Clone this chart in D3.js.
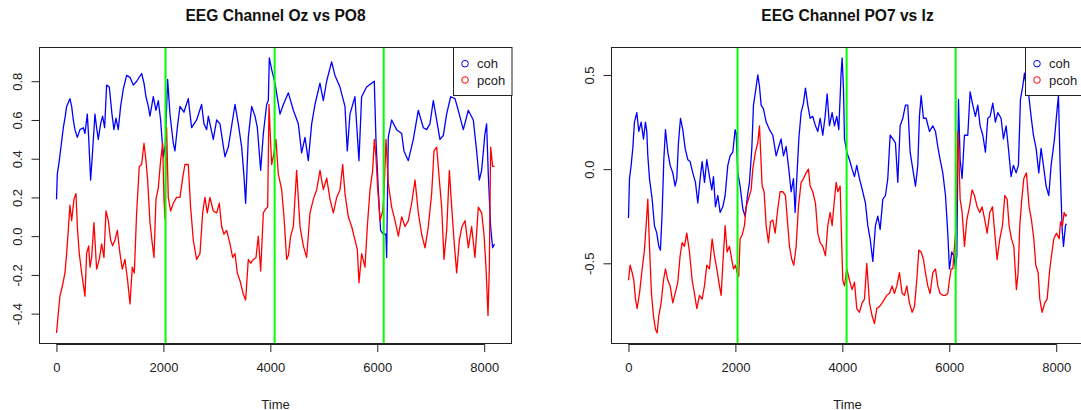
<!DOCTYPE html>
<html><head><meta charset="utf-8">
<script src="https://cdn.jsdelivr.net/npm/d3@7"></script>
<style>body{margin:0;background:#fff} svg{display:block;font-family:"Liberation Sans",Arial,Helvetica,sans-serif}</style>
</head><body><svg id="c" width="1081" height="410"></svg>
<script>
// ---------- data ----------
const titles = ["EEG Channel Oz vs PO8", "EEG Channel PO7 vs Iz"];
const seriesNames = ["coh", "pcoh"];
const seriesColors = ["#0000ff", "#ff0000"];
const xLabel = "Time";
const xTicks = [0, 2000, 4000, 6000, 8000];
const xTickLabels = ["0", "2000", "4000", "6000", "8000"];
const yTicksA = [-0.4, -0.2, 0, 0.2, 0.4, 0.6, 0.8];
const yTickLabelsA = ["-0.4", "-0.2", "0.0", "0.2", "0.4", "0.6", "0.8"];
const yTicksB = [-0.5, 0, 0.5];
const yTickLabelsB = ["-0.5", "0.0", "0.5"];
const markers = [2040, 4080, 6120];
const timeRange = [1, 8192];

// Oz vs PO8 : coh
const cohA = [[1,0.19],[16,0.32],[53,0.39],[97,0.49],[128,0.56],[159,0.61],[190,0.67],[252,0.71],[284,0.67],[315,0.60],[346,0.55],[390,0.51],[440,0.55],[502,0.56],[533,0.53],[577,0.63],[602,0.51],[639,0.29],[676,0.44],[720,0.63],[751,0.56],[782,0.50],[826,0.58],[863,0.62],[901,0.56],[938,0.78],[988,0.77],[1038,0.63],[1075,0.55],[1113,0.61],[1156,0.55],[1200,0.67],[1250,0.76],[1312,0.83],[1375,0.82],[1437,0.78],[1500,0.80],[1593,0.84],[1637,0.79],[1674,0.72],[1718,0.67],[1749,0.62],[1811,0.72],[1861,0.65],[1905,0.70],[1948,0.60],[1998,0.41],[2035,0.47],[2079,0.81],[2123,0.63],[2185,0.48],[2216,0.44],[2260,0.56],[2310,0.67],[2384,0.64],[2465,0.71],[2528,0.56],[2621,0.60],[2715,0.68],[2759,0.58],[2809,0.55],[2840,0.62],[2933,0.50],[2996,0.60],[3058,0.58],[3151,0.41],[3214,0.46],[3339,0.68],[3401,0.58],[3464,0.46],[3507,0.31],[3538,0.17],[3588,0.51],[3651,0.67],[3713,0.62],[3757,0.56],[3819,0.34],[3869,0.53],[3931,0.68],[3962,0.70],[3981,0.92],[4025,0.86],[4087,0.79],[4181,0.63],[4243,0.68],[4337,0.74],[4430,0.65],[4523,0.58],[4585,0.43],[4648,0.51],[4710,0.39],[4773,0.58],[4835,0.68],[4928,0.79],[4991,0.70],[5053,0.80],[5146,0.90],[5209,0.83],[5302,0.77],[5396,0.67],[5439,0.44],[5489,0.63],[5582,0.72],[5657,0.39],[5707,0.72],[5801,0.77],[5894,0.79],[5944,0.80],[5975,0.50],[6019,0.24],[6062,0.03],[6112,0.01],[6162,0.01],[6175,-0.11],[6206,0.51],[6269,0.60],[6362,0.55],[6456,0.53],[6499,0.44],[6580,0.39],[6674,0.50],[6767,0.65],[6861,0.56],[6923,0.55],[6985,0.58],[7048,0.70],[7110,0.60],[7172,0.50],[7235,0.52],[7297,0.63],[7372,0.72],[7453,0.71],[7515,0.65],[7609,0.55],[7702,0.65],[7796,0.60],[7858,0.44],[7908,0.29],[7952,0.34],[8014,0.53],[8045,0.58],[8076,0.32],[8120,0.05],[8157,-0.06],[8192,-0.04]];
// Oz vs PO8 : pcoh
const pcohA = [[1,-0.50],[34,-0.40],[65,-0.31],[109,-0.26],[159,-0.19],[190,-0.09],[221,0.03],[252,0.16],[284,0.08],[327,0.19],[365,0.22],[390,0.05],[427,-0.09],[471,-0.19],[533,-0.31],[564,-0.09],[602,-0.05],[627,-0.16],[658,-0.11],[701,0.07],[751,-0.17],[801,-0.12],[845,-0.04],[888,-0.11],[926,0.13],[970,0.08],[1013,-0.02],[1050,-0.05],[1094,-0.02],[1138,0.03],[1188,-0.09],[1231,-0.17],[1281,-0.12],[1331,-0.23],[1375,-0.35],[1418,-0.16],[1456,-0.19],[1499,0.12],[1549,0.36],[1593,0.37],[1637,0.48],[1674,0.39],[1705,0.29],[1749,0.07],[1793,-0.04],[1824,-0.11],[1861,0.19],[1905,0.25],[1948,0.39],[1986,0.48],[2010,0.20],[2029,0.09],[2060,0.56],[2091,0.20],[2135,0.13],[2185,0.17],[2247,0.20],[2310,0.20],[2360,0.30],[2403,0.37],[2465,0.37],[2509,0.15],[2559,-0.02],[2621,-0.12],[2684,-0.09],[2734,0.12],[2777,0.20],[2821,0.12],[2871,0.20],[2933,0.13],[2996,0.12],[3046,0.17],[3089,0.05],[3133,0.01],[3183,0.03],[3245,-0.04],[3295,-0.11],[3339,-0.09],[3382,-0.19],[3432,-0.23],[3495,-0.30],[3538,-0.33],[3588,-0.12],[3632,-0.14],[3682,-0.12],[3732,-0.11],[3775,0.00],[3819,-0.18],[3869,0.12],[3912,0.14],[3950,0.15],[3975,0.68],[4006,0.48],[4025,0.37],[4068,0.43],[4105,0.50],[4149,0.32],[4212,0.24],[4255,0.10],[4305,-0.12],[4337,-0.10],[4380,0.00],[4430,0.05],[4492,0.34],[4555,0.05],[4617,-0.05],[4679,-0.11],[4742,0.12],[4804,0.19],[4867,0.24],[4929,0.34],[4991,0.24],[5054,0.30],[5116,0.19],[5178,0.12],[5241,0.20],[5303,0.24],[5353,0.37],[5396,0.22],[5458,0.10],[5521,0.05],[5583,-0.02],[5627,-0.07],[5658,-0.24],[5708,-0.09],[5770,-0.16],[5814,0.05],[5864,0.24],[5914,0.34],[5945,0.50],[5976,0.41],[6007,0.25],[6051,0.08],[6101,0.13],[6126,0.22],[6163,0.50],[6207,0.27],[6269,0.15],[6332,0.08],[6394,0.00],[6456,0.10],[6519,0.05],[6581,0.08],[6643,0.17],[6706,0.29],[6768,0.12],[6830,0.01],[6893,-0.06],[6955,0.05],[7017,0.22],[7061,0.44],[7111,0.46],[7161,0.29],[7204,0.15],[7248,-0.12],[7298,0.03],[7348,0.34],[7392,0.15],[7435,-0.02],[7485,-0.19],[7535,-0.02],[7585,0.05],[7641,0.08],[7703,-0.06],[7765,0.05],[7827,-0.11],[7890,0.15],[7952,0.12],[7996,0.01],[8033,-0.16],[8071,-0.41],[8096,-0.16],[8120,0.46],[8158,0.36],[8192,0.36]];
// PO7 vs Iz : coh
const cohB = [[1,-0.26],[19,-0.05],[50,0.02],[81,0.11],[112,0.25],[156,0.30],[193,0.20],[237,0.25],[281,0.16],[318,0.25],[343,0.20],[362,0.07],[393,-0.05],[443,-0.16],[486,-0.30],[530,-0.34],[567,-0.41],[598,-0.43],[630,-0.23],[661,0.05],[692,0.21],[736,0.09],[779,0.02],[829,-0.02],[873,-0.09],[904,-0.05],[935,0.14],[973,0.27],[1016,0.21],[1060,0.11],[1110,0.05],[1153,0.04],[1203,-0.02],[1253,-0.07],[1297,-0.18],[1341,-0.05],[1378,0.04],[1422,-0.07],[1465,0.05],[1515,-0.04],[1559,-0.11],[1590,-0.04],[1627,-0.20],[1671,-0.14],[1714,-0.23],[1764,-0.20],[1808,-0.14],[1858,0.02],[1901,0.07],[1951,0.09],[1995,0.21],[2014,0.19],[2045,-0.02],[2088,-0.09],[2138,-0.21],[2182,-0.25],[2226,-0.14],[2263,-0.07],[2307,0.11],[2338,0.34],[2375,0.41],[2419,0.50],[2450,0.44],[2481,0.34],[2525,0.32],[2575,0.25],[2637,0.21],[2699,0.18],[2762,0.07],[2812,0.12],[2855,0.16],[2899,0.07],[2949,0.12],[2999,0.00],[3042,-0.12],[3086,-0.05],[3117,-0.23],[3148,-0.05],[3186,0.16],[3229,0.30],[3273,0.35],[3310,0.43],[3354,0.34],[3398,0.27],[3447,0.28],[3497,0.23],[3541,0.20],[3585,0.27],[3634,0.18],[3678,0.28],[3716,0.40],[3759,0.23],[3809,0.30],[3853,0.23],[3896,0.28],[3934,0.21],[3977,0.51],[3996,0.59],[4021,0.43],[4040,0.16],[4084,0.09],[4133,0.05],[4183,0.00],[4227,-0.04],[4270,0.02],[4320,-0.05],[4382,-0.12],[4432,-0.18],[4476,-0.30],[4520,-0.37],[4570,-0.49],[4619,-0.30],[4663,-0.25],[4707,-0.32],[4757,-0.16],[4806,-0.14],[4850,-0.05],[4894,0.18],[4944,0.16],[4993,0.14],[5037,-0.07],[5081,0.23],[5131,0.27],[5180,0.34],[5224,0.34],[5268,0.09],[5318,0.00],[5368,-0.09],[5411,0.02],[5442,0.28],[5474,0.39],[5517,0.27],[5567,0.27],[5629,0.20],[5692,0.23],[5742,0.20],[5785,0.12],[5829,0.05],[5879,-0.02],[5929,-0.14],[5972,-0.34],[6003,-0.53],[6047,-0.44],[6085,-0.46],[6116,-0.53],[6141,-0.46],[6172,0.37],[6203,0.05],[6240,-0.05],[6284,0.18],[6346,0.18],[6390,0.41],[6440,0.34],[6489,0.28],[6533,0.34],[6577,0.23],[6627,0.18],[6676,0.09],[6720,0.27],[6764,0.28],[6814,0.35],[6863,0.25],[6907,0.30],[6969,0.27],[7013,0.16],[7063,0.23],[7106,0.11],[7156,-0.04],[7200,0.02],[7250,-0.02],[7293,0.02],[7331,0.37],[7374,0.44],[7406,0.51],[7437,0.44],[7487,0.39],[7530,0.28],[7574,0.18],[7624,0.11],[7674,-0.02],[7717,0.11],[7761,0.02],[7811,-0.09],[7861,-0.14],[7905,0.02],[7967,0.16],[8011,0.30],[8042,0.39],[8073,0.02],[8111,-0.32],[8136,-0.41],[8173,-0.30],[8192,-0.29]];
// PO7 vs Iz : pcoh
const pcohB = [[1,-0.59],[31,-0.51],[69,-0.55],[100,-0.59],[131,-0.69],[162,-0.74],[206,-0.66],[256,-0.53],[299,-0.43],[330,-0.30],[362,-0.16],[393,-0.41],[430,-0.66],[468,-0.78],[505,-0.85],[536,-0.87],[567,-0.78],[611,-0.71],[655,-0.59],[692,-0.53],[736,-0.59],[779,-0.62],[829,-0.71],[873,-0.66],[923,-0.60],[966,-0.46],[1004,-0.39],[1047,-0.41],[1091,-0.34],[1141,-0.44],[1191,-0.59],[1234,-0.66],[1278,-0.74],[1328,-0.67],[1378,-0.69],[1421,-0.62],[1465,-0.51],[1515,-0.53],[1565,-0.37],[1608,-0.46],[1652,-0.53],[1702,-0.62],[1733,-0.67],[1764,-0.51],[1808,-0.30],[1845,-0.44],[1889,-0.41],[1932,-0.48],[1964,-0.53],[2001,-0.51],[2032,-0.55],[2063,-0.57],[2088,-0.37],[2126,-0.35],[2169,-0.30],[2201,-0.20],[2244,-0.16],[2294,-0.11],[2325,0.00],[2375,0.09],[2419,0.14],[2450,0.23],[2469,0.11],[2500,-0.09],[2537,-0.12],[2575,-0.30],[2618,-0.39],[2656,-0.28],[2699,-0.27],[2743,-0.34],[2793,-0.21],[2837,-0.12],[2886,-0.12],[2936,-0.14],[2980,-0.30],[3011,-0.41],[3055,-0.48],[3092,-0.51],[3136,-0.41],[3179,-0.20],[3229,-0.07],[3273,-0.05],[3323,-0.02],[3366,0.00],[3398,-0.09],[3447,-0.12],[3497,-0.18],[3541,-0.34],[3585,-0.39],[3634,-0.41],[3684,-0.46],[3728,-0.30],[3772,-0.23],[3809,-0.30],[3853,-0.16],[3884,-0.07],[3915,-0.12],[3959,-0.09],[3984,-0.35],[4008,-0.59],[4040,-0.62],[4084,-0.53],[4133,-0.59],[4183,-0.64],[4227,-0.60],[4270,-0.74],[4320,-0.76],[4370,-0.71],[4414,-0.69],[4457,-0.50],[4507,-0.71],[4557,-0.78],[4601,-0.82],[4644,-0.74],[4694,-0.73],[4744,-0.71],[4788,-0.69],[4831,-0.67],[4881,-0.66],[4931,-0.62],[4975,-0.66],[5018,-0.62],[5068,-0.55],[5118,-0.66],[5162,-0.67],[5205,-0.62],[5255,-0.71],[5305,-0.76],[5349,-0.73],[5392,-0.59],[5430,-0.43],[5474,-0.44],[5517,-0.48],[5555,-0.55],[5598,-0.62],[5642,-0.66],[5692,-0.55],[5742,-0.53],[5785,-0.62],[5829,-0.66],[5879,-0.67],[5929,-0.67],[5972,-0.66],[6003,-0.59],[6035,-0.53],[6066,-0.53],[6097,-0.41],[6128,-0.30],[6160,0.20],[6178,0.09],[6203,-0.16],[6240,-0.23],[6284,-0.41],[6328,-0.27],[6378,-0.20],[6427,-0.11],[6471,-0.14],[6521,-0.20],[6571,-0.23],[6614,-0.20],[6664,-0.27],[6708,-0.34],[6758,-0.23],[6808,-0.20],[6851,-0.34],[6895,-0.48],[6945,-0.37],[6995,-0.30],[7038,-0.14],[7082,-0.16],[7119,-0.30],[7163,-0.37],[7207,-0.41],[7256,-0.64],[7287,-0.55],[7319,-0.30],[7350,-0.18],[7394,-0.05],[7443,-0.02],[7493,-0.20],[7537,-0.27],[7581,-0.37],[7618,-0.51],[7662,-0.55],[7693,-0.69],[7736,-0.76],[7786,-0.71],[7830,-0.69],[7880,-0.53],[7911,-0.46],[7955,-0.37],[8005,-0.34],[8055,-0.37],[8080,-0.28],[8117,-0.30],[8148,-0.23],[8179,-0.25],[8192,-0.24]];

// ---------- drawing ----------
const svg = d3.select("#c");
const panels = [
  {title: titles[0], series: [cohA, pcohA], yTicks: yTicksA, yLabels: yTickLabelsA, x0: 39, x1: 512},
  {title: titles[1], series: [cohB, pcohB], yTicks: yTicksB, yLabels: yTickLabelsB, x0: 611, x1: 1084}
];
const plotTop = 47, plotBottom = 344;
const pad = d => { const r = d[1] - d[0]; return [d[0] - 0.04 * r, d[1] + 0.04 * r]; };
const FONT = '"Liberation Sans", Arial, sans-serif';

panels.forEach((p, i) => {
  const g = svg.append("g");
  const x = d3.scaleLinear().domain(pad(timeRange)).range([p.x0, p.x1]);
  const allV = p.series.flat().map(d => d[1]);
  const y = d3.scaleLinear().domain(pad(d3.extent(allV))).range([plotBottom, plotTop]);

  const clipId = "clip" + i;
  g.append("clipPath").attr("id", clipId).append("rect")
    .attr("x", p.x0).attr("y", plotTop).attr("width", p.x1 - p.x0).attr("height", plotBottom - plotTop);

  const line = d3.line().x(d => x(d[0])).y(d => y(d[1]));
  const plot = g.append("g").attr("clip-path", `url(#${clipId})`);
  p.series.forEach((s, k) => {
    plot.append("path").datum(s).attr("d", line)
      .attr("fill", "none").attr("stroke", seriesColors[k])
      .attr("stroke-width", 1.3).attr("stroke-linejoin", "round");
  });
  plot.selectAll("line.mk").data(markers).enter().append("line").attr("class", "mk")
    .attr("x1", d => x(d)).attr("x2", d => x(d)).attr("y1", plotTop).attr("y2", plotBottom)
    .attr("stroke", "#00ff00").attr("stroke-width", 2);

  // box
  g.append("rect").attr("x", p.x0 + 0.5).attr("y", plotTop + 0.5)
    .attr("width", p.x1 - p.x0 - 1).attr("height", plotBottom - plotTop - 1)
    .attr("fill", "none").attr("stroke", "#222").attr("stroke-width", 1);

  // x axis
  const xa = g.append("g").attr("transform", `translate(0,${plotBottom})`)
    .call(d3.axisBottom(x).tickValues(xTicks).tickFormat((d, j) => xTickLabels[j]).tickSize(8).tickPadding(11));
  xa.select(".domain").attr("d", `M${x(xTicks[0])},0.5H${x(xTicks[xTicks.length - 1])}`).attr("stroke", "#222");
  xa.selectAll(".tick line").attr("stroke", "#222");
  xa.selectAll(".tick text").attr("font-size", 13).attr("fill", "#222").attr("font-family", FONT);

  // y axis
  const ya = g.append("g").attr("transform", `translate(${p.x0},0)`)
    .call(d3.axisLeft(y).tickValues(p.yTicks).tickFormat((d, j) => p.yLabels[j]).tickSize(7.5).tickPadding(0));
  ya.select(".domain").attr("d", `M0.5,${y(p.yTicks[0])}V${y(p.yTicks[p.yTicks.length - 1])}`).attr("stroke", "#222");
  ya.selectAll(".tick line").attr("stroke", "#222");
  ya.selectAll(".tick text").attr("font-size", 13).attr("fill", "#222").attr("font-family", FONT)
    .attr("x", null).attr("dy", null)
    .attr("text-anchor", "middle")
    .attr("transform", "translate(-17.5,0) rotate(-90)");

  // title and x label
  const cx = (p.x0 + p.x1) / 2;
  g.append("text").attr("x", cx).attr("y", 20.5).attr("text-anchor", "middle").attr("font-family", FONT)
    .attr("font-size", 15.6).attr("font-weight", "bold").attr("fill", "#111").text(p.title);
  g.append("text").attr("x", cx).attr("y", 408.5).attr("text-anchor", "middle").attr("font-family", FONT)
    .attr("font-size", 13).attr("fill", "#222").text(xLabel);

  // legend
  const lx = p.x1 - 59;
  const lg = g.append("g");
  lg.append("rect").attr("x", lx + 0.5).attr("y", plotTop + 0.5).attr("width", 58.5).attr("height", 48)
    .attr("fill", "#fff").attr("stroke", "#222");
  seriesNames.forEach((nm, k) => {
    const ly = 63.7 + k * 16.3;
    lg.append("circle").attr("cx", lx + 12).attr("cy", ly).attr("r", 3.3)
      .attr("fill", "none").attr("stroke", seriesColors[k]).attr("stroke-width", 1);
    lg.append("text").attr("x", lx + 24).attr("y", ly + 4.6).attr("font-family", FONT)
      .attr("font-size", 13).attr("fill", "#222").text(nm);
  });
});
</script></body></html>
